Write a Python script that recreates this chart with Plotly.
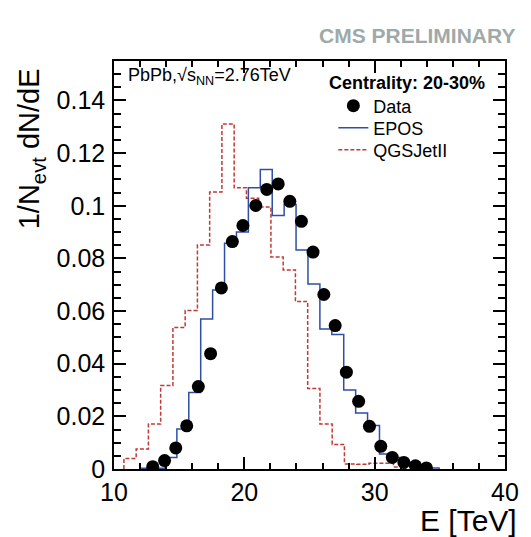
import numpy as np
import plotly.graph_objects as go

# ---------------- data ----------------
data_E = [12.97, 13.88, 14.74, 15.58, 16.47, 17.41, 18.24, 19.08, 19.89, 20.88,
          21.72, 22.60, 23.49, 24.38, 25.27, 26.10, 26.97, 27.83, 28.77, 29.60,
          30.47, 31.35, 32.24, 33.13, 33.97]
data_val = [0.0009, 0.0032, 0.0080, 0.0164, 0.0313, 0.0438, 0.0688, 0.0864, 0.0925, 0.1001,
            0.1062, 0.1083, 0.1017, 0.0941, 0.0824, 0.0663, 0.0545, 0.0368, 0.0257, 0.0162,
            0.0086, 0.0044, 0.0025, 0.0012, 0.0004]

epos_first_edge = 12.08
epos_bin_width = 0.9145
epos_val = [0.0003, 0.0003, 0.0044, 0.0152, 0.0291, 0.0570, 0.0680, 0.0858, 0.0900, 0.1068,
            0.1138, 0.0963, 0.1005, 0.0832, 0.0703, 0.0532, 0.0511, 0.0300, 0.0213, 0.0165,
            0.0057, 0.0044, 0.0022, 0.0012, 0.0004]

qgs_first_edge = 10.76
qgs_bin_width = 0.940
qgs_val = [0.0040, 0.0076, 0.0171, 0.0317, 0.0538, 0.0602, 0.0851, 0.1052, 0.1311, 0.1068,
           0.1029, 0.0995, 0.0805, 0.0756, 0.0636, 0.0306, 0.0171, 0.0093, 0.0019, 0.0018,
           0.0022, 0.0022, 0.0008]

x_ticks = [10, 20, 30, 40]
y_ticks = [0, 0.02, 0.04, 0.06, 0.08, 0.10, 0.12, 0.14]
y_ticktext = ["0", "0.02", "0.04", "0.06", "0.08", "0.1", "0.12", "0.14"]


def step_xy(first, width, vals):
    edges = first + width * np.arange(len(vals) + 1)
    x = [edges[0]] + list(edges[:-1]) + [edges[-1], edges[-1]]
    y = [0.0] + list(vals) + [vals[-1], 0.0]
    return x, y


FONT = "Liberation Sans, Arial, Helvetica, sans-serif"

fig = go.Figure()

ex, ey = step_xy(epos_first_edge, epos_bin_width, epos_val)
qx, qy = step_xy(qgs_first_edge, qgs_bin_width, qgs_val)

fig.add_trace(go.Scatter(x=qx, y=qy, mode="lines", name="QGSJetII", legend="legend3",
                         line=dict(color="#c03a3a", width=1.5, dash="4px,2px", shape="hv")))
fig.add_trace(go.Scatter(x=ex, y=ey, mode="lines", name="EPOS", legend="legend2",
                         line=dict(color="#2f4fa3", width=1.5, shape="hv")))
fig.add_trace(go.Scatter(x=data_E, y=data_val, mode="markers", name="Data", legend="legend",
                         marker=dict(color="black", size=13, symbol="circle")))

axis_common = dict(showline=True, linecolor="black", linewidth=1.5, mirror="ticks",
                   ticks="inside", tickcolor="black", tickwidth=1.5, ticklen=12,
                   showgrid=False, zeroline=False,
                   tickfont=dict(family=FONT, size=25, color="black"))

fig.update_xaxes(range=[10, 40], tickvals=x_ticks,
                 minor=dict(dtick=2, tick0=10, ticks="inside", ticklen=6,
                            tickcolor="black", tickwidth=1.5, showgrid=False),
                 **axis_common)
fig.update_yaxes(range=[0, 0.155], tickvals=y_ticks, ticktext=y_ticktext,
                 ticklabelstandoff=2,
                 minor=dict(dtick=0.005, tick0=0, ticks="inside", ticklen=7,
                            tickcolor="black", tickwidth=1.5, showgrid=False),
                 **axis_common)

leg_common = dict(x=0.561, xanchor="left", yanchor="middle",
                  bgcolor="rgba(0,0,0,0)", borderwidth=0,
                  font=dict(family=FONT, size=18, color="black"))

fig.update_layout(
    width=531, height=537,
    margin=dict(l=114, r=16, t=61, b=68),
    plot_bgcolor="white", paper_bgcolor="white",
    font=dict(family=FONT, color="black"),
    showlegend=True,
    legend=dict(y=0.8897, **leg_common),
    legend2=dict(y=0.8358, **leg_common),
    legend3=dict(y=0.7819, **leg_common),
    annotations=[
        dict(text="<b>CMS PRELIMINARY</b>", xref="paper", yref="paper", x=1.0, y=1.0637,
             xanchor="right", yanchor="middle", showarrow=False, xshift=12,
             font=dict(family=FONT, size=21, color="#a0a9a9")),
        dict(text="<b>Centrality: 20-30%</b>", xref="paper", yref="paper", x=0.5436, y=0.946,
             xanchor="left", yanchor="middle", showarrow=False,
             font=dict(family=FONT, size=18, color="black")),
        dict(text="PbPb,√s<sub>NN</sub>=2.76TeV",
             xref="paper", yref="paper", x=0.03, y=0.961, xanchor="left", yanchor="middle",
             showarrow=False, font=dict(family=FONT, size=18, color="black")),
        dict(text="E [TeV]", xref="paper", yref="paper", x=1.0, y=-0.125,
             xanchor="right", yanchor="middle", showarrow=False, xshift=14,
             font=dict(family=FONT, size=30, color="black")),
        dict(text="1/N<sub>evt</sub> dN/dE", xref="paper", yref="paper", x=-0.21, y=0.988,
             xanchor="center", yanchor="top", textangle=-90, showarrow=False,
             font=dict(family=FONT, size=29, color="black")),
    ],
)

fig.write_html("out.html")
